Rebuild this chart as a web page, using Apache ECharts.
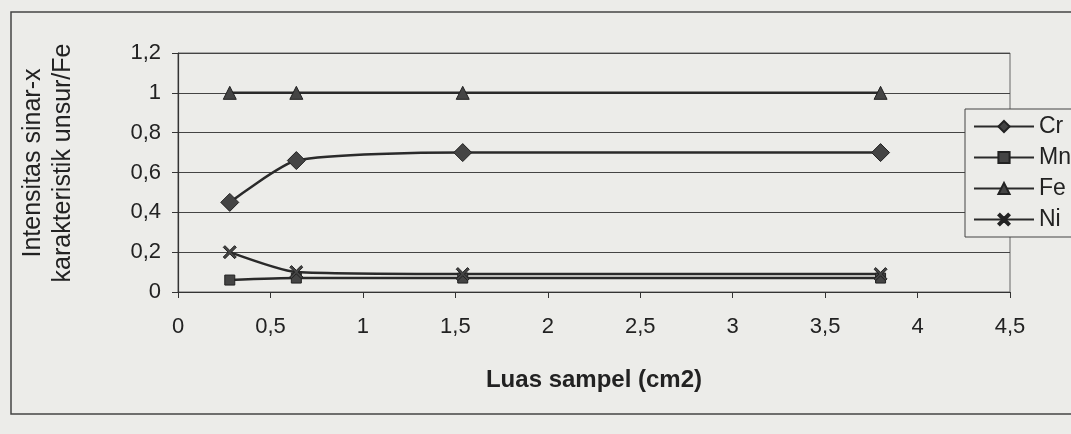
<!DOCTYPE html>
<html>
<head>
<meta charset="utf-8">
<script src="https://cdn.jsdelivr.net/npm/echarts@6/dist/echarts.min.js"></script>
<style>
html,body{margin:0;padding:0;background:#ecece9;}
#c{width:1071px;height:434px;}
</style>
</head>
<body>
<div id="c"></div>
<script>
// Data
const xValues = [0.28, 0.64, 1.54, 3.8];          // Luas sampel (cm2)
const crValues = [0.45, 0.66, 0.70, 0.70];
const mnValues = [0.06, 0.07, 0.07, 0.07];
const feValues = [1.0, 1.0, 1.0, 1.0];
const niValues = [0.20, 0.10, 0.09, 0.09];
const seriesNames = ['Cr', 'Mn', 'Fe', 'Ni'];
const xTitle = 'Luas sampel (cm2)';
const yTitle = 'Intensitas sinar-x\nkarakteristik unsur/Fe';

const pairs = vals => xValues.map((x, i) => [x, vals[i]]);
const comma = v => String(Math.round(v * 10) / 10).replace('.', ',');
const FONT = '"Liberation Sans", Arial, sans-serif';
const xShape = 'path://M0,1.3 L1.3,0 L5,3.7 L8.7,0 L10,1.3 L6.3,5 L10,8.7 L8.7,10 L5,6.3 L1.3,10 L0,8.7 L3.7,5 Z';

const lineStyle = { color: '#2a2a2a', width: 2.5 };
function mk(name, vals, symbol, size) {
  return {
    name, type: 'line', data: pairs(vals), smooth: 0.2,
    symbol, symbolSize: size, showAllSymbol: true,
    lineStyle, color: '#3a3a3a',
    itemStyle: { color: '#444', borderColor: '#222', borderWidth: 1 },
    emphasis: { disabled: true }, animation: false
  };
}

const chart = echarts.init(document.getElementById('c'), null, { renderer: 'canvas' });
chart.setOption({
  backgroundColor: '#ecece9',
  animation: false,
  textStyle: { fontFamily: FONT },
  graphic: [
    { type: 'rect', shape: { x: 11, y: 12, width: 1100, height: 402 },
      style: { fill: 'none', stroke: '#444', lineWidth: 1.5 }, z: -1 },
    { type: 'text', x: 48, y: 163, rotation: Math.PI / 2,
      style: { text: yTitle, font: '25px ' + FONT, fill: '#222', align: 'center', verticalAlign: 'middle', lineHeight: 30 } }
  ],
  grid: { left: 178, top: 53, right: 61, bottom: 142, show: true, borderColor: '#666', borderWidth: 1, backgroundColor: 'transparent' },
  legend: {
    orient: 'vertical', left: 965, top: 109,
    padding: [6, 40, 6, 8], itemWidth: 60, itemHeight: 14, itemGap: 8,
    borderColor: '#444', borderWidth: 1, backgroundColor: '#ecece9',
    textStyle: { fontSize: 23, lineHeight: 22, color: '#222', fontFamily: FONT },
    data: seriesNames
  },
  xAxis: {
    type: 'value', min: 0, max: 4.5, interval: 0.5,
    name: xTitle, nameLocation: 'middle', nameGap: 76,
    nameTextStyle: { fontSize: 24, fontWeight: 'bold', color: '#222', fontFamily: FONT },
    axisLine: { show: true, onZero: false, lineStyle: { color: '#333', width: 1.2 } },
    axisTick: { show: true, length: 6, inside: false, lineStyle: { color: '#333' } },
    axisLabel: { fontSize: 22, color: '#222', margin: 24, formatter: comma },
    splitLine: { show: false }
  },
  yAxis: {
    type: 'value', min: 0, max: 1.2, interval: 0.2,
    axisLine: { show: true, lineStyle: { color: '#333', width: 1.2 } },
    axisTick: { show: true, length: 6, lineStyle: { color: '#333' } },
    axisLabel: { fontSize: 22, color: '#222', margin: 17, formatter: comma },
    splitLine: { show: true, lineStyle: { color: '#444', width: 1 } }
  },
  series: [
    mk('Cr', crValues, 'diamond', 18),
    mk('Mn', mnValues, 'rect', 10),
    mk('Fe', feValues, 'triangle', 13),
    mk('Ni', niValues, xShape, 13)
  ]
});
</script>
</body>
</html>
